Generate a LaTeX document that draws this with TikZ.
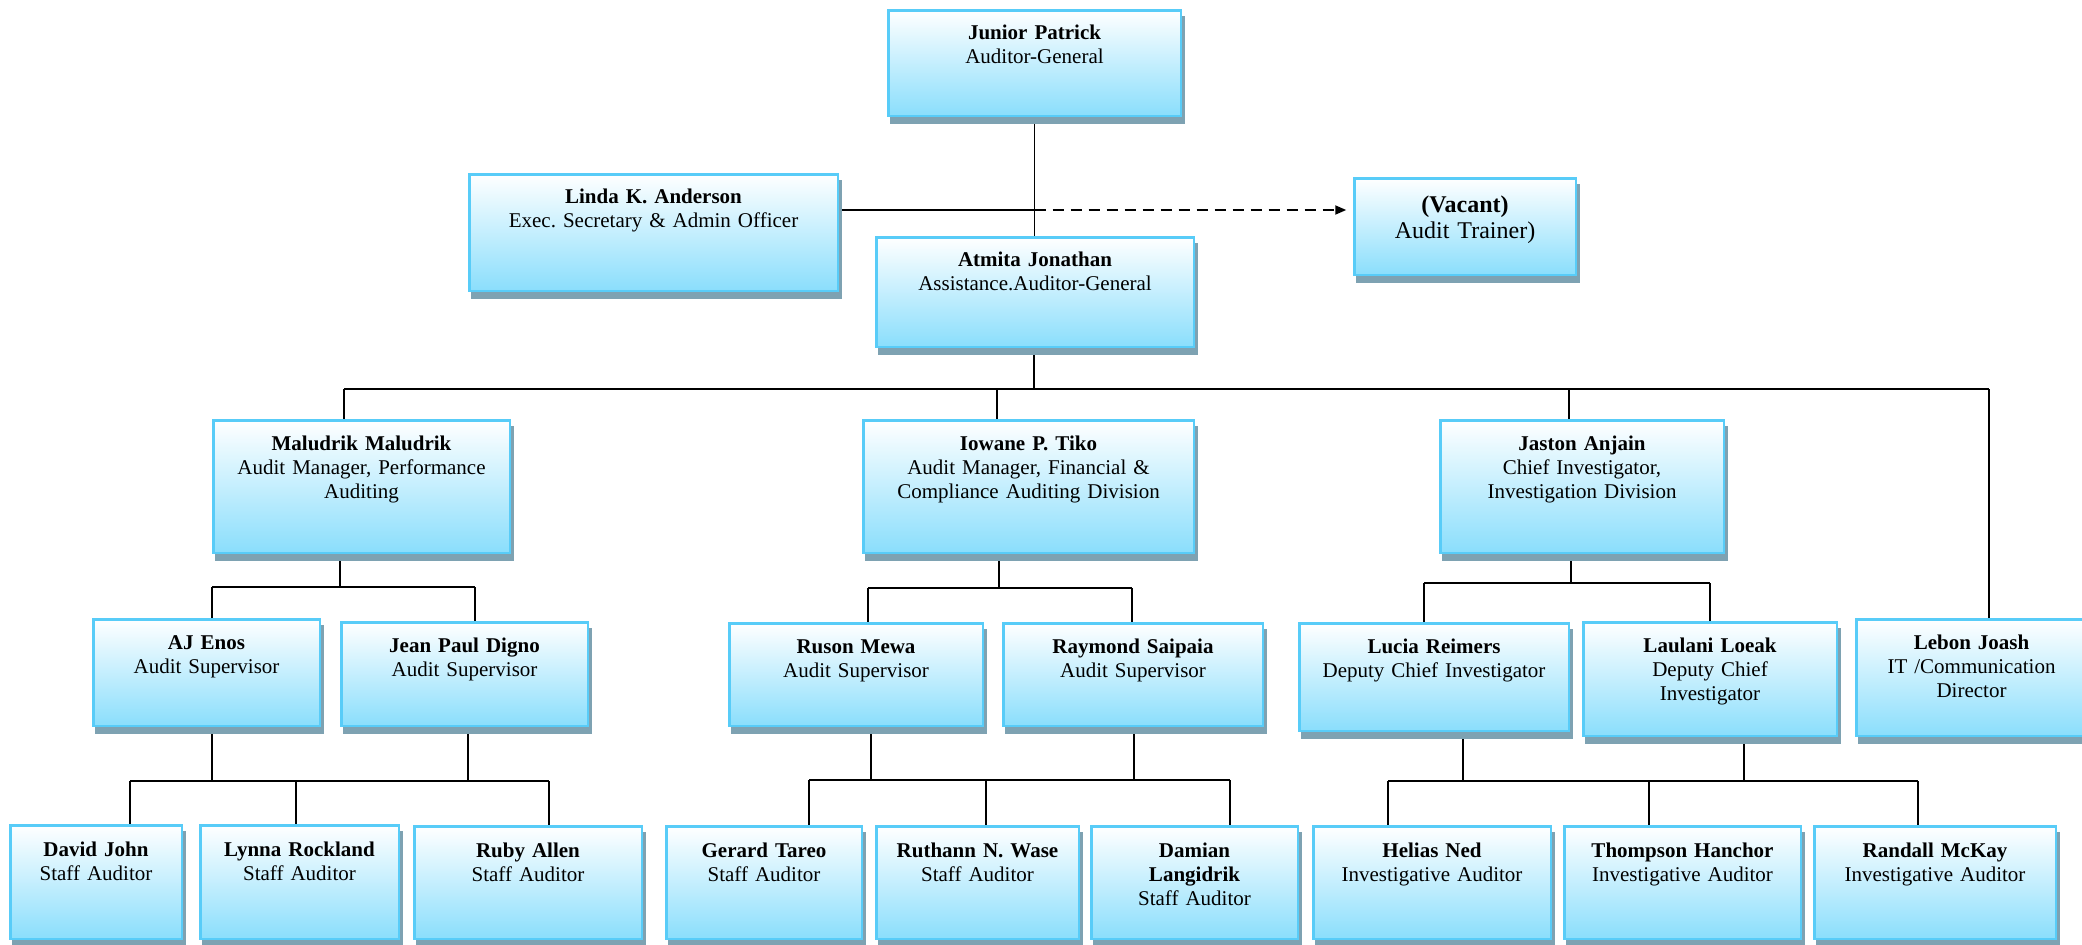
\documentclass[tikz,border=0pt]{standalone}
\usepackage{fontspec}
\setmainfont{Liberation Serif}
\frenchspacing
\usetikzlibrary{arrows.meta,backgrounds}
\definecolor{boxborder}{RGB}{88,204,248}
\definecolor{boxblue}{RGB}{138,222,252}
\definecolor{shadowc}{RGB}{126,162,178}
\tikzset{
  orgbox/.style={draw=boxborder, line width=2.5bp, top color=white, bottom color=boxblue, inner sep=0pt, outer sep=0pt, anchor=north west},
  orgtext/.style={anchor=base, align=center, inner sep=0pt, font=\fontsize{21bp}{24bp}\selectfont},
  bigtext/.style={font=\fontsize{24bp}{26bp}\selectfont},
  conn/.style={line width=1.8bp, draw=black},
}
% #1 name, #2 left, #3 top, #4 right, #5 bottom, #6 baseline offset, #7 extra style, #8 text
\newcommand\obox[8]{%
  \pgfmathsetmacro\bw{#4-#2-2.5}%
  \pgfmathsetmacro\bh{#5-#3-2.5}%
  \pgfmathsetmacro\tw{#4-#2}%
  \fill[shadowc] (#2+3,-#3-7) rectangle (#4+3,-#5-7);
  \node[orgbox, minimum width=\bw bp, minimum height=\bh bp] (#1) at (#2+1.25,-#3-1.25) {};
  \node[orgtext, text width=\tw bp, #7] (#1-t) at ([yshift=-#6bp]#1.north) {#8};
}
\newcommand\dropto[2]{\draw[conn] (#1) -- (#1 |- #2.north);}
\newcommand\upfrom[2]{\draw[conn] (#1 |- #2.south) -- (#1);}
\begin{document}
\begin{tikzpicture}[x=1bp,y=1bp]
\useasboundingbox (0,0) rectangle (2082,-945);
\begin{scope}
\clip (0,0) rectangle (2082,-945);

\obox{JP}{887}{9}{1182}{117}{29.5}{}{\textbf{Junior Patrick}\\Auditor-General}
\obox{Lin}{468}{173}{839}{292}{29.5}{}{\textbf{Linda K. Anderson}\\Exec. Secretary \& Admin Officer}
\obox{Vac}{1353}{177}{1577}{276}{34}{bigtext}{\textbf{(Vacant)}\\Audit Trainer)}
\obox{Atm}{875}{236}{1195}{348}{29.5}{}{\textbf{Atmita Jonathan}\\Assistance.Auditor-General}

\obox{Mal}{212}{419}{511}{554}{30.5}{}{\textbf{Maludrik Maludrik}\\Audit Manager, Performance\\Auditing}
\obox{Iow}{862}{419}{1195}{554}{30.5}{}{\textbf{Iowane P. Tiko}\\Audit Manager, Financial \&\\Compliance Auditing Division}
\obox{Jas}{1439}{419}{1725}{554}{30.5}{}{\textbf{Jaston Anjain}\\Chief Investigator,\\Investigation Division}

\obox{AJ}{92}{618}{321}{727}{30.5}{}{\textbf{AJ Enos}\\Audit Supervisor}
\obox{JPD}{340}{621}{589}{727}{30.5}{}{\textbf{Jean Paul Digno}\\Audit Supervisor}
\obox{Rus}{728}{622}{984}{727}{30.5}{}{\textbf{Ruson Mewa}\\Audit Supervisor}
\obox{Ray}{1002}{622}{1264}{727}{30.5}{}{\textbf{Raymond Saipaia}\\Audit Supervisor}
\obox{Luc}{1298}{622}{1570}{732}{30.5}{}{\textbf{Lucia Reimers}\\Deputy Chief Investigator}
\obox{Lau}{1582}{621}{1838}{737}{30.5}{}{\textbf{Laulani Loeak}\\Deputy Chief\\Investigator}
\obox{Leb}{1855}{618}{2088}{737}{30.5}{}{\textbf{Lebon Joash}\\IT /Communication\\Director}

\obox{Dav}{9}{824}{183}{940}{31}{}{\textbf{David John}\\Staff Auditor}
\obox{Lyn}{199}{824}{400}{940}{31}{}{\textbf{Lynna Rockland}\\Staff Auditor}
\obox{Rub}{413}{825}{643}{940}{31}{}{\textbf{Ruby Allen}\\Staff Auditor}
\obox{Ger}{665}{825}{863}{940}{31}{}{\textbf{Gerard Tareo}\\Staff Auditor}
\obox{Rth}{875}{825}{1080}{940}{31}{}{\textbf{Ruthann N. Wase}\\Staff Auditor}
\obox{Dam}{1090}{825}{1299}{940}{31}{}{\textbf{Damian}\\\textbf{Langidrik}\\Staff Auditor}
\obox{Hel}{1312}{825}{1552}{940}{31}{}{\textbf{Helias Ned}\\Investigative Auditor}
\obox{Tho}{1563}{825}{1802}{940}{31}{}{\textbf{Thompson Hanchor}\\Investigative Auditor}
\obox{Ran}{1813}{825}{2057}{940}{31}{}{\textbf{Randall McKay}\\Investigative Auditor}
\end{scope}

\begin{pgfonlayer}{background}
% top level
\draw[conn] (JP.south) -- (JP.south |- Atm.north);
\coordinate (j1) at (1034.5,-210);
\draw[conn] (Lin.east |- j1) -- (j1);
\coordinate (vt) at ([xshift=-8bp]Vac.west);
\draw[line width=1.8bp, dash pattern=on 11bp off 7bp, -{Triangle[length=11bp,width=9bp]}] (j1) -- (vt |- j1);
% level 1 bus
\coordinate (b1L) at (344,-389);
\coordinate (b1R) at (1989,-389);
\coordinate (b1I) at (997,-389);
\coordinate (b1J) at (1569,-389);
\coordinate (b1A) at (1034,-389);
\upfrom{b1A}{Atm}
\draw[conn] (b1L) -- (b1R);
\dropto{b1L}{Mal}
\dropto{b1I}{Iow}
\dropto{b1J}{Jas}
\dropto{b1R}{Leb}
% level 2 under Maludrik
\coordinate (m0) at (340,-587);
\coordinate (mL) at (212,-587);
\coordinate (mR) at (475,-587);
\upfrom{m0}{Mal}
\draw[conn] (mL) -- (mR);
\dropto{mL}{AJ}
\dropto{mR}{JPD}
% level 2 under Iowane
\coordinate (i0) at (999,-588);
\coordinate (iL) at (868,-588);
\coordinate (iR) at (1132,-588);
\upfrom{i0}{Iow}
\draw[conn] (iL) -- (iR);
\dropto{iL}{Rus}
\dropto{iR}{Ray}
% level 2 under Jaston
\coordinate (k0) at (1571,-583);
\coordinate (kL) at (1424,-583);
\coordinate (kR) at (1710,-583);
\upfrom{k0}{Jas}
\draw[conn] (kL) -- (kR);
\dropto{kL}{Luc}
\dropto{kR}{Lau}
% level 3 left
\coordinate (p1) at (212,-781);
\coordinate (p2) at (468,-781);
\coordinate (pL) at (130,-781);
\coordinate (pM) at (296,-781);
\coordinate (pR) at (549,-781);
\upfrom{p1}{AJ}
\upfrom{p2}{JPD}
\draw[conn] (pL) -- (pR);
\dropto{pL}{Dav}
\dropto{pM}{Lyn}
\dropto{pR}{Rub}
% level 3 middle
\coordinate (q1) at (871,-780);
\coordinate (q2) at (1134,-780);
\coordinate (qL) at (809,-780);
\coordinate (qM) at (986,-780);
\coordinate (qR) at (1230,-780);
\upfrom{q1}{Rus}
\upfrom{q2}{Ray}
\draw[conn] (qL) -- (qR);
\dropto{qL}{Ger}
\dropto{qM}{Rth}
\dropto{qR}{Dam}
% level 3 right
\coordinate (r1) at (1463,-781);
\coordinate (r2) at (1744,-781);
\coordinate (rL) at (1388,-781);
\coordinate (rM) at (1649,-781);
\coordinate (rR) at (1918,-781);
\upfrom{r1}{Luc}
\upfrom{r2}{Lau}
\draw[conn] (rL) -- (rR);
\dropto{rL}{Hel}
\dropto{rM}{Tho}
\dropto{rR}{Ran}
\end{pgfonlayer}
\end{tikzpicture}
\end{document}
